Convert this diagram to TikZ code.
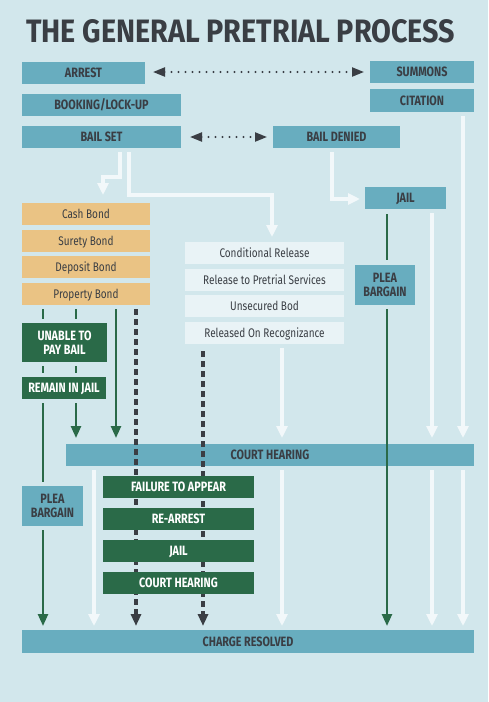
\documentclass[tikz,border=0pt]{standalone}
\usepackage{graphicx}
\usepackage{fontspec}
\setmainfont{Fira Sans}
\usetikzlibrary{arrows.meta,calc}
\definecolor{bg}{HTML}{D2E7EC}
\definecolor{tealc}{HTML}{68ADBF}
\definecolor{dark}{HTML}{3A3E44}
\definecolor{grn}{HTML}{2A6A48}
\definecolor{orng}{HTML}{EAC384}
\definecolor{lite}{HTML}{E9F3F6}
\definecolor{wht}{HTML}{F2F8FA}
\newcommand\sq[1]{\scalebox{0.8}[1]{#1}}
\newcommand\lw[1]{\scalebox{0.8}[1]{#1}}
\tikzset{
  box/.style={inner sep=0pt, outer sep=0pt, anchor=center},
  one/.style={text height=9.3pt, text depth=0pt},
  tbox/.style={box, fill=tealc, text=dark, font=\fontsize{13.5}{14}\selectfont\bfseries, align=center},
  gbox/.style={box, fill=grn, text=white, font=\fontsize{13.5}{14}\selectfont\bfseries, align=center},
  obox/.style={box, fill=orng, text=dark, font=\fontsize{12.5}{13}\selectfont, text height=8.6pt, text depth=0pt},
  lbox/.style={box, fill=lite, text=dark, font=\fontsize{12.5}{13}\selectfont, text height=8.6pt, text depth=0pt},
  wline/.style={draw=wht, line width=4pt},
  warr/.style={wline, -{Triangle[length=12pt,width=11pt]}},
  gline/.style={draw=grn, line width=2.5pt},
  garr/.style={gline, -{Triangle[length=12pt,width=10pt]}},
  darr/.style={draw=dark, line width=3.5pt, dash pattern=on 6pt off 4pt, -{Triangle[length=12pt,width=10pt]}},
  dotarr/.style={draw=dark, line width=2.2pt, line cap=round, dash pattern=on 0pt off 7pt, {Triangle[length=12pt,width=9pt]}-{Triangle[length=12pt,width=9pt]}},
}
\begin{document}
\begin{tikzpicture}[x=1pt,y=-1pt]
\useasboundingbox (0,0) rectangle (488,702);
\fill[bg] (0,0) rectangle (488,702);
\foreach \x in {43,76,94,103,116,120,129,136,203,272,282,332,387,432,463}{\coordinate (c\x) at (\x,0);}

\node[anchor=base west, inner sep=0pt, text=dark] (title) at (26,42) {\resizebox{429pt}{23pt}{\bfseries THE GENERAL PRETRIAL PROCESS}};

% top teal boxes
\node[tbox,one,minimum width=123pt,minimum height=22pt] (arrest) at (83.5,73) {\sq{ARREST}};
\node[tbox,one,minimum width=104pt,minimum height=22pt] (summons) at (422,72) {\sq{SUMMONS}};
\node[tbox,one,minimum width=104pt,minimum height=23pt] (citation) at (422,100.5) {\sq{CITATION}};
\node[tbox,one,minimum width=159pt,minimum height=22pt] (booking) at (101.5,105) {\sq{BOOKING/LOCK-UP}};
\node[tbox,one,minimum width=159pt,minimum height=22pt] (bailset) at (101.5,137) {\sq{BAIL SET}};
\node[tbox,one,minimum width=127pt,minimum height=22pt] (baildenied) at (336.5,137) {\sq{BAIL DENIED}};
\node[tbox,one,minimum width=81pt,minimum height=22pt] (jail) at (405.5,198) {\sq{JAIL}};

% bonds
\node[obox,minimum width=128pt,minimum height=22pt] (cash) at (86,214) {\lw{Cash Bond}};
\node[obox,minimum width=128pt,minimum height=22pt] (surety) at (86,241) {\lw{Surety Bond}};
\node[obox,minimum width=128pt,minimum height=22pt] (deposit) at (86,267) {\lw{Deposit Bond}};
\node[obox,minimum width=128pt,minimum height=22pt] (property) at (86,294) {\lw{Property Bond}};

% releases
\node[lbox,minimum width=159pt,minimum height=22pt] (cond) at (264.5,253) {\lw{Conditional Release}};
\node[lbox,minimum width=159pt,minimum height=22pt] (pretrial) at (264.5,280) {\lw{Release to Pretrial Services}};
\node[lbox,minimum width=159pt,minimum height=22pt] (unsecured) at (264.5,306) {\lw{Unsecured Bod}};
\node[lbox,minimum width=159pt,minimum height=22pt] (ror) at (264.5,333) {\lw{Released On Recognizance}};

\node[tbox,minimum width=60pt,minimum height=40pt] (pleaR) at (385,285) {\sq{PLEA}\\\sq{BARGAIN}};
\node[gbox,minimum width=85pt,minimum height=39pt] (unable) at (64.5,342.5) {\sq{UNABLE TO}\\\sq{PAY BAIL}};
\node[gbox,one,minimum width=84pt,minimum height=22pt] (remain) at (64,388) {\sq{REMAIN IN JAIL}};
\node[tbox,one,minimum width=408pt,minimum height=22pt] (court) at (270,455) {\sq{COURT HEARING}};
\node[tbox,minimum width=61pt,minimum height=40pt] (pleaL) at (52.5,506) {\sq{PLEA}\\\sq{BARGAIN}};
\node[tbox,one,minimum width=452pt,minimum height=23pt] (charge) at (248,641.5) {\sq{CHARGE RESOLVED}};

% dotted double arrows
\draw[dotarr] ($(arrest.east)+(8,-1)$) -- ($(summons.west)+(-6,0)$);
\draw[dotarr] ($(bailset.east)+(9,0)$) -- ($(baildenied.west)+(-6,0)$);

% white connectors
\draw[warr] ($(c120 |- bailset.south)+(0,4)$) -- ++(0,25) -- ++(-17,0) -- ($(c103 |- cash.north)+(0,-8)$);
\draw[warr] ($(c129 |- bailset.south)+(0,4)$) -- ++(0,43) -| ($(c272 |- cond.north)+(0,-5)$);
\draw[warr] ($(c332 |- baildenied.south)+(0,4)$) |- ($(jail.west)+(-5,1)$);
\draw[warr] ($(c463 |- citation.south)+(0,4)$) -- ($(c463 |- court.north)+(0,-6)$);
\draw[warr] ($(c432 |- jail.south)+(0,4)$) -- ($(c432 |- court.north)+(0,-6)$);
\draw[warr] ($(c282 |- ror.south)+(0,4)$) -- ($(c282 |- court.north)+(0,-6)$);
\foreach \c in {c94,c282,c432,c463}{
  \draw[warr] ($(\c |- court.south)+(0,4)$) -- ($(\c |- charge.north)+(0,-4)$);
}

% green connectors
\draw[gline] ($(c387 |- jail.south)+(0,5)$) -- ($(c387 |- pleaR.north)+(0,-5)$);
\draw[garr] ($(c387 |- pleaR.south)+(0,4)$) -- ($(c387 |- charge.north)+(0,-4)$);
\foreach \c in {c43,c76}{
  \draw[gline] ($(\c |- property.south)+(0,4)$) -- ($(\c |- unable.north)+(0,-4)$);
  \draw[gline] ($(\c |- unable.south)+(0,4)$) -- ($(\c |- remain.north)+(0,-4)$);
}
\draw[garr] ($(c76 |- remain.south)+(0,4)$) -- ($(c76 |- court.north)+(0,-6)$);
\draw[gline] ($(c43 |- remain.south)+(0,4)$) -- ($(c43 |- pleaL.north)+(0,-4)$);
\draw[garr] ($(c43 |- pleaL.south)+(0,4)$) -- ($(c43 |- charge.north)+(0,-4)$);
\draw[garr] ($(c116 |- property.south)+(0,4)$) -- ($(c116 |- court.north)+(0,-6)$);

% dashed black connectors
\draw[darr] ($(c136 |- property.south)+(0,4)$) -- ($(c136 |- charge.north)+(0,-4)$);
\draw[darr] ($(c203 |- ror.south)+(0,7)$) -- ($(c203 |- charge.north)+(0,-4)$);

% lower green boxes
\node[gbox,one,minimum width=151pt,minimum height=22pt] (fta) at (178.5,487) {\sq{FAILURE TO APPEAR}};
\node[gbox,one,minimum width=151pt,minimum height=22pt] (rearrest) at (178.5,519) {\sq{RE-ARREST}};
\node[gbox,one,minimum width=151pt,minimum height=22pt] (jail2) at (178.5,551) {\sq{JAIL}};
\node[gbox,one,minimum width=151pt,minimum height=22pt] (court2) at (178.5,583) {\sq{COURT HEARING}};
\end{tikzpicture}
\end{document}
